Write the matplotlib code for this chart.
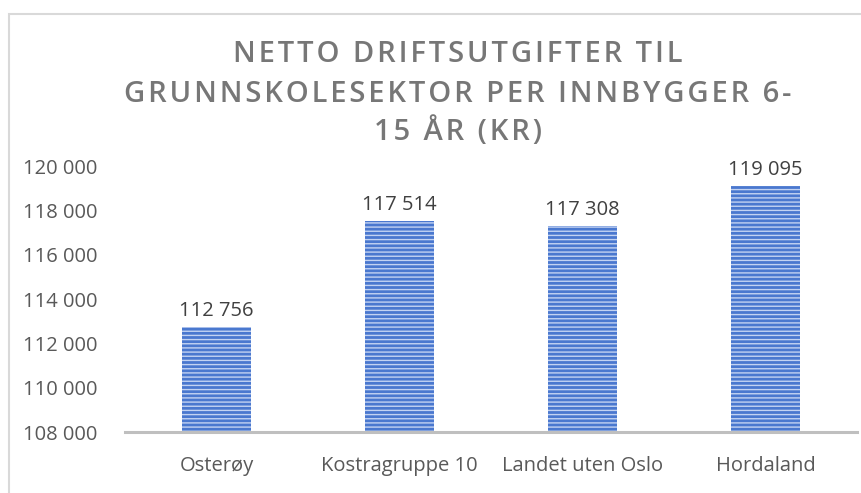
import matplotlib
matplotlib.use("Agg")
import matplotlib.pyplot as plt
from matplotlib.patches import Rectangle

categories = ["Osterøy", "Kostragruppe 10", "Landet uten Oslo", "Hordaland"]
values = [112756, 117514, 117308, 119095]
yticks = [108000, 110000, 112000, 114000, 116000, 118000, 120000]
title_lines = ["NETTO DRIFTSUTGIFTER TIL", "GRUNNSKOLESEKTOR PER INNBYGGER 6-", "15 ÅR (KR)"]

def fmt(v):
    return f"{v:,}".replace(",", " ")

W, H, DPI = 861, 493, 100
fig = plt.figure(figsize=(W / DPI, H / DPI), dpi=DPI)
fam = ["Open Sans", "DejaVu Sans"]

# chart frame
fig.patches.append(Rectangle((9 / W, -0.1), 1.2, 1 - 14 / H + 0.1, transform=fig.transFigure,
                             fill=False, edgecolor="#d9d9d9", linewidth=1.5))

ax = fig.add_axes([125 / W, 1 - 432 / H, (857 - 125) / W, (432 - 166) / H])
x = list(range(len(categories)))
bars = ax.bar(x, values, width=0.38, bottom=0, color="#4a78cf", edgecolor="#c3d3f2",
              hatch="----", linewidth=0, zorder=2)
ax.set_xlim(-0.5, len(categories) - 0.5)
ax.set_ylim(yticks[0], yticks[-1])
ax.set_yticks(yticks)
ax.set_yticklabels([fmt(t) for t in yticks], family=fam, fontsize=14.5, color="#595959")
ax.set_xticks(x)
ax.set_xticklabels(categories, family=fam, fontsize=14.5, color="#595959")
ax.tick_params(axis="both", length=0)
ax.tick_params(axis="y", pad=20)
ax.tick_params(axis="x", pad=17)
for s in ["left", "right", "top"]:
    ax.spines[s].set_visible(False)
ax.spines["bottom"].set_color("#bfbfbf")
ax.spines["bottom"].set_linewidth(2.2)
ax.spines["bottom"].set_zorder(3)
ax.patch.set_visible(False)

for xi, v in zip(x, values):
    ax.annotate(fmt(v), (xi, v), xytext=(0, 11.5), textcoords="offset points",
                ha="center", va="center", family=fam, fontsize=14.5, color="#404040",
                annotation_clip=False)

hs = "\u200a"
for i, (line, yc) in enumerate(zip(title_lines, [54, 94, 132])):
    fig.text(458 / W, 1 - yc / H, hs.join(line), ha="center", va="center",
             family=fam, fontsize=21, fontweight="semibold", color="#777777")

fig.savefig("out.png", dpi=DPI)
